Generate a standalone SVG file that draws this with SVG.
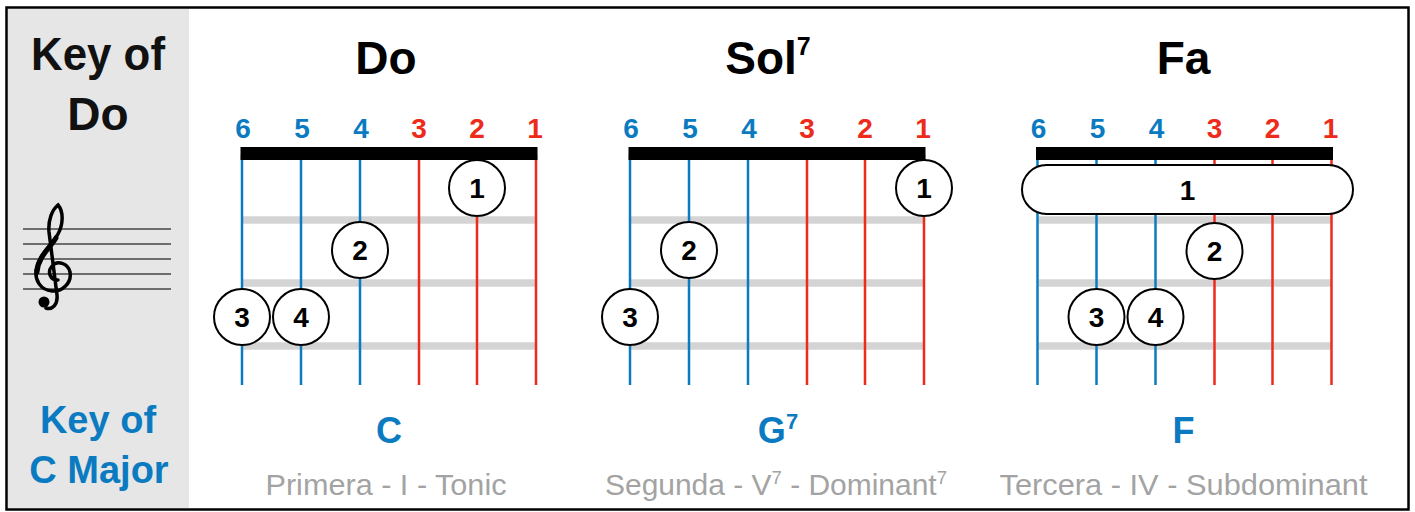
<svg xmlns="http://www.w3.org/2000/svg" xmlns:xlink="http://www.w3.org/1999/xlink" width="1415" height="512" viewBox="0 0 1415 512">
<style>
text{font-family:"Liberation Sans",Arial,Helvetica,sans-serif}
.title{font-size:46px;font-weight:bold;fill:#000;text-anchor:middle}
.key{font-size:46px;font-weight:bold;fill:#111;text-anchor:middle}
.keyb{font-size:38px;font-weight:bold;fill:#0b7bc1;text-anchor:middle}
.snb{font-size:28px;font-weight:bold;fill:#0b7bc1;text-anchor:middle}
.snr{font-size:28px;font-weight:bold;fill:#ee2a1b;text-anchor:middle}
.sb{stroke:#0b7bc1;stroke-width:2.5}
.sr{stroke:#ee2a1b;stroke-width:2.5}
.fret{stroke:#d4d4d4;stroke-width:7.5}
.finger circle,.finger rect{fill:#fff;stroke:#000;stroke-width:2}
.finger text{font-size:28px;font-weight:bold;fill:#000;text-anchor:middle}
.chord{font-size:36px;font-weight:bold;fill:#0b7bc1;text-anchor:middle}
.sub{font-size:29px;fill:#a3a3a3;text-anchor:middle}
.staff{stroke:#444;stroke-width:1.5}
</style>
<defs>
<g id="board">
<line class="fret" x1="1" y1="220" x2="294" y2="220"/>
<line class="fret" x1="1" y1="283" x2="294" y2="283"/>
<line class="fret" x1="1" y1="346" x2="294" y2="346"/>
<line class="sb" x1="0" y1="155" x2="0" y2="385"/>
<line class="sb" x1="59" y1="155" x2="59" y2="385"/>
<line class="sb" x1="118" y1="155" x2="118" y2="385"/>
<line class="sr" x1="177" y1="155" x2="177" y2="385"/>
<line class="sr" x1="235" y1="155" x2="235" y2="385"/>
<line class="sr" x1="294" y1="155" x2="294" y2="385"/>
<rect x="-1.5" y="147" width="297" height="13" fill="#000"/>
<text class="snb" x="1" y="138">6</text>
<text class="snb" x="60" y="138">5</text>
<text class="snb" x="119" y="138">4</text>
<text class="snr" x="177" y="138">3</text>
<text class="snr" x="235" y="138">2</text>
<text class="snr" x="293" y="138">1</text>
</g>
</defs>
<rect x="6.5" y="7.5" width="1402" height="502" fill="#fff" stroke="#000" stroke-width="2.5"/>
<g id="key-panel">
<rect x="8" y="9" width="181" height="499" fill="#e6e6e6"/>
<text class="key" x="98" y="70" textLength="134" lengthAdjust="spacingAndGlyphs">Key of</text>
<text class="key" x="98" y="130">Do</text>
<g id="staff">
<line class="staff" x1="23" y1="229" x2="171" y2="229"/>
<line class="staff" x1="23" y1="244" x2="171" y2="244"/>
<line class="staff" x1="23" y1="259" x2="171" y2="259"/>
<line class="staff" x1="23" y1="274" x2="171" y2="274"/>
<line class="staff" x1="23" y1="289" x2="171" y2="289"/>
<path d="M58 280 C50 280 47 272 52 266 C57 260 68 263 70 272 C72 283 62 292 52 291 C40 290 35 280 36 270 C38 255 52 245 58 234 C63 225 64 212 58 205 C52 210 48 220 49 232 L57 295 C58 305 52 310 46 308" fill="none" stroke="#000" stroke-width="3.5" stroke-linecap="round"/>
<path d="M37 272 C38 257 50 248 56 238" fill="none" stroke="#000" stroke-width="5" stroke-linecap="round"/>
<circle cx="44" cy="302" r="5.5" fill="#000"/>
</g>
<text class="keyb" x="98" y="433">Key of</text>
<text class="keyb" x="99" y="483">C Major</text>
</g>
<g id="chord-do" transform="translate(242,0)">
<text class="title" x="144" y="74">Do</text>
<use xlink:href="#board"/>
<g class="finger" id="do-f1"><circle cx="235" cy="188" r="28"/><text x="235" y="198">1</text></g>
<g class="finger" id="do-f2"><circle cx="118" cy="250" r="28"/><text x="118" y="260">2</text></g>
<g class="finger" id="do-f3"><circle cx="0" cy="317" r="28"/><text x="0" y="327">3</text></g>
<g class="finger" id="do-f4"><circle cx="59" cy="317" r="28"/><text x="59" y="327">4</text></g>
<text class="chord" x="147" y="443">C</text>
<text class="sub" x="144" y="495" textLength="241" lengthAdjust="spacingAndGlyphs">Primera - I - Tonic</text>
</g>
<g id="chord-sol7" transform="translate(630,0)">
<text class="title" x="138" y="74">Sol<tspan font-size="25" dy="-19">7</tspan></text>
<use xlink:href="#board"/>
<g class="finger" id="sol-f1"><circle cx="294" cy="188" r="28"/><text x="294" y="198">1</text></g>
<g class="finger" id="sol-f2"><circle cx="59" cy="250" r="28"/><text x="59" y="260">2</text></g>
<g class="finger" id="sol-f3"><circle cx="0" cy="317" r="28"/><text x="0" y="327">3</text></g>
<text class="chord" x="148" y="443">G<tspan font-size="22" dy="-14">7</tspan></text>
<text class="sub" x="146" y="495" textLength="342" lengthAdjust="spacingAndGlyphs">Segunda - V<tspan font-size="18" dy="-11">7</tspan><tspan dy="11"> - Dominant</tspan><tspan font-size="18" dy="-11">7</tspan></text>
</g>
<g id="chord-fa" transform="translate(1037.5,0)">
<text class="title" x="146" y="74">Fa</text>
<use xlink:href="#board"/>
<g class="finger" id="fa-barre"><rect x="-15.5" y="165" width="331" height="49" rx="24.5"/><text x="150" y="200">1</text></g>
<g class="finger" id="fa-f2"><circle cx="177" cy="251" r="28"/><text x="177" y="261">2</text></g>
<g class="finger" id="fa-f3"><circle cx="59" cy="317" r="28"/><text x="59" y="327">3</text></g>
<g class="finger" id="fa-f4"><circle cx="118" cy="317" r="28"/><text x="118" y="327">4</text></g>
<text class="chord" x="146" y="443">F</text>
<text class="sub" x="146" y="495" textLength="368" lengthAdjust="spacingAndGlyphs">Tercera - IV - Subdominant</text>
</g>
</svg>
